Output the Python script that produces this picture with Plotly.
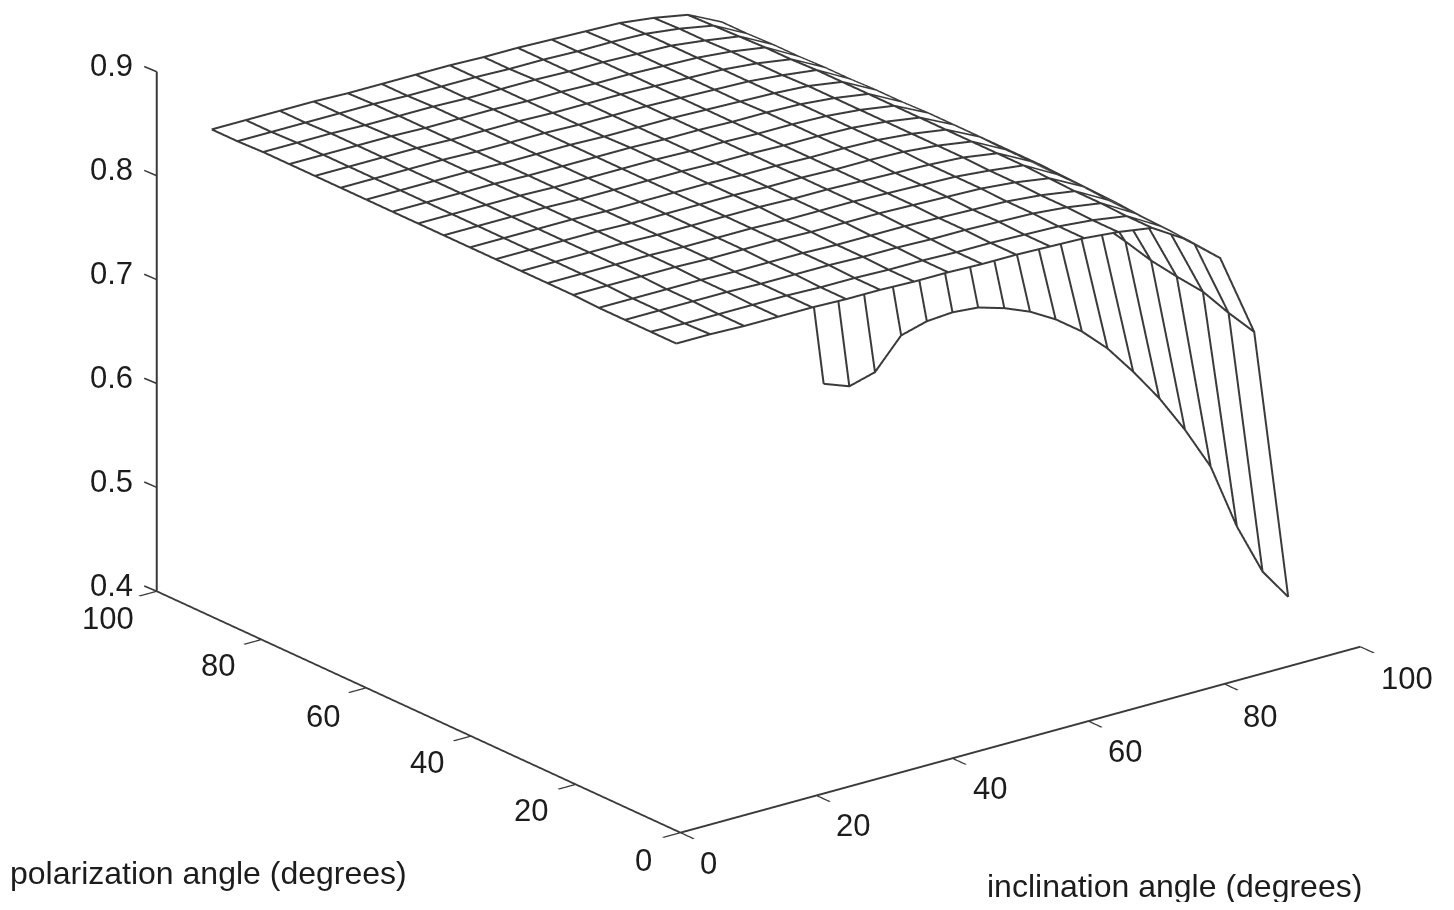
import plotly.graph_objects as go

inclination = [0,5,10,15,20,25,30,35,40,45,50,55,60,65,70,75,80,85,90]
polarization = [0.8,5.7,10.6,15.6,20.5,25.4,30.4,35.3,40.2,45.2,50.1,55,60,64.9,69.8,74.7,79.7,84.6,89.5]
# one row per polarization angle, one column per inclination angle
efficiency = [
 [.869,.869,.868,.868,.868,.867,.867,.866,.866,.865,.865,.864,.863,.860,.855,.835,.808,.728,.464],
 [.869,.868,.868,.868,.868,.867,.867,.866,.866,.865,.865,.864,.863,.860,.855,.836,.810,.735,.477],
 [.869,.869,.869,.869,.868,.868,.868,.867,.867,.866,.866,.865,.864,.861,.856,.837,.812,.744,.509],
 [.869,.869,.869,.869,.868,.868,.868,.867,.867,.867,.866,.865,.864,.861,.856,.838,.813,.747,.555],
 [.870,.870,.870,.870,.869,.869,.869,.868,.868,.868,.867,.866,.865,.862,.857,.840,.815,.751,.579],
 [.870,.870,.870,.870,.869,.869,.869,.868,.868,.868,.867,.866,.865,.862,.858,.840,.816,.758,.598],
 [.870,.870,.870,.870,.869,.869,.869,.869,.868,.868,.867,.866,.865,.863,.858,.841,.817,.764,.612],
 [.870,.870,.870,.870,.869,.869,.869,.869,.868,.868,.867,.867,.866,.863,.858,.841,.818,.770,.623],
 [.870,.870,.870,.870,.869,.869,.869,.869,.868,.868,.867,.867,.866,.863,.858,.842,.818,.772,.628],
 [.870,.870,.870,.870,.869,.869,.869,.869,.868,.868,.867,.867,.866,.863,.858,.842,.818,.773,.628],
 [.870,.870,.870,.870,.869,.869,.869,.869,.868,.868,.867,.867,.866,.863,.858,.842,.818,.776,.624],
 [.870,.870,.870,.870,.869,.869,.869,.869,.868,.868,.867,.867,.866,.863,.858,.841,.818,.780,.616],
 [.870,.870,.870,.870,.869,.869,.869,.868,.868,.868,.867,.866,.865,.863,.858,.841,.817,.778,.605],
 [.870,.870,.870,.870,.869,.869,.869,.868,.868,.868,.867,.866,.865,.862,.858,.840,.816,.770,.589],
 [.870,.870,.870,.870,.869,.869,.869,.868,.868,.868,.867,.866,.865,.862,.857,.840,.815,.756,.569],
 [.870,.870,.870,.870,.869,.869,.869,.868,.868,.867,.867,.866,.865,.862,.857,.839,.814,.745,.544],
 [.870,.870,.870,.869,.869,.869,.868,.868,.868,.867,.867,.866,.865,.861,.856,.839,.813,.740,.497],
 [.869,.869,.869,.869,.869,.868,.868,.868,.867,.867,.866,.866,.865,.861,.855,.838,.811,.735,.472],
 [.869,.869,.869,.869,.868,.868,.868,.868,.867,.867,.866,.865,.864,.860,.854,.838,.810,.730,.463],
]
x_ticks = [0,20,40,60,80,100]
y_ticks = [0,20,40,60,80,100]
z_ticks = [0.4,0.5,0.6,0.7,0.8,0.9]
z_tick_labels = ["0.4","0.5","0.6","0.7","0.8","0.9"]
x_title = "inclination angle (degrees)"
y_title = "polarization angle (degrees)"

INK = "#3a3a3a"
TXT = "#1c1c1c"
FONT = "Liberation Sans"
W, H, PAD = 1438, 894, 8

# the white hiding surface sits a hair behind the wire lines along the line of sight
VIEW = (0.5704, 0.7405, -0.355)
ASPECT = (1.92, 1.92, 1.243)
GAP = 0.012
sx = GAP*VIEW[0]*100/ASPECT[0]
sy = GAP*VIEW[1]*100/ASPECT[1]
sz = GAP*VIEW[2]*0.5/ASPECT[2]

surface = go.Surface(
    x=[v+sx for v in inclination], y=[v+sy for v in polarization],
    z=[[v+sz for v in row] for row in efficiency],
    colorscale=[[0,"white"],[1,"white"]], showscale=False,
    lighting=dict(ambient=1,diffuse=0,specular=0,roughness=1,fresnel=0),
    hoverinfo="skip",
)
lx, ly, lz = [], [], []
for j, p in enumerate(polarization):
    lx += inclination + [None]
    ly += [p]*len(inclination) + [None]
    lz += efficiency[j] + [None]
for i, a in enumerate(inclination):
    lx += [a]*len(polarization) + [None]
    ly += polarization + [None]
    lz += [row[i] for row in efficiency] + [None]
mesh = go.Scatter3d(x=lx, y=ly, z=lz, mode="lines", line=dict(color=INK, width=4), hoverinfo="skip")

fig = go.Figure([surface, mesh])

def axis(rng, vals, ticks="outside"):
    return dict(range=rng, tickmode="array", tickvals=vals, showgrid=False, zeroline=False,
             showbackground=False, showline=True, linecolor=INK, linewidth=4,
             ticks=ticks, ticklen=22, tickwidth=4, tickcolor=INK,
             showticklabels=False, title=dict(text=""), showspikes=False)

def tick_note(x, y, z, text, dx, dy):
    return dict(x=x, y=y, z=z, text=text, showarrow=False, xshift=dx, yshift=-(dy+1),
                font=dict(family=FONT, size=31, color=TXT))

x_shift = [(28,30),(37,29),(38,29),(37,29),(36,32),(47,31)]
y_shift = [(-37,27),(-45,25),(-44,25),(-43,28),(-43,25),(-49,26)]
notes = []
for v, s in zip(x_ticks, x_shift):
    notes.append(tick_note(v, 0, 0.4, str(v), *s))
for v, s in zip(y_ticks, y_shift):
    notes.append(tick_note(0, v, 0.4, str(v), *s))
for v, t in zip(z_ticks, z_tick_labels):
    notes.append(tick_note(0, 100, v, t, -45, -7))
    # z tick mark, slanted along the polarization axis as in the reference
    notes.append(dict(x=0, y=100, z=v, text=" ", showarrow=True, arrowhead=0, arrowwidth=1.6,
                      arrowcolor=INK, ax=-14, ay=-6, standoff=0, startstandoff=0,
                      font=dict(family=FONT, size=1)))

C = (-.1023,-.0171,-.2002)
R = 6
fig.update_layout(
    width=W, height=H, margin=dict(l=0,r=0,t=0,b=0),
    paper_bgcolor="white", showlegend=False,
    scene=dict(
        xaxis=axis([0,100],x_ticks), yaxis=axis([0,100],y_ticks),
        zaxis=axis([0.4,0.9],z_ticks,""),
        aspectmode="manual", aspectratio=dict(x=ASPECT[0],y=ASPECT[1],z=ASPECT[2]),
        camera=dict(projection=dict(type="orthographic"), up=dict(x=0,y=0,z=1),
                    center=dict(x=C[0],y=C[1],z=C[2]),
                    eye=dict(x=C[0]-VIEW[0]*R,y=C[1]-VIEW[1]*R,z=C[2]-VIEW[2]*R)),
        domain=dict(x=[0,1],y=[0,1]),
        annotations=notes,
    ),
    annotations=[
        dict(text=y_title,xref="paper",yref="paper",x=(8-PAD)/W,y=1-(873-PAD)/H,xanchor="left",yanchor="middle",
             showarrow=False,font=dict(family=FONT,size=32,color=TXT)),
        dict(text=x_title,xref="paper",yref="paper",x=(985-PAD)/W,y=1-(886-PAD)/H,xanchor="left",yanchor="middle",
             showarrow=False,font=dict(family=FONT,size=32,color=TXT)),
    ],
)
fig.write_html("out.html")
